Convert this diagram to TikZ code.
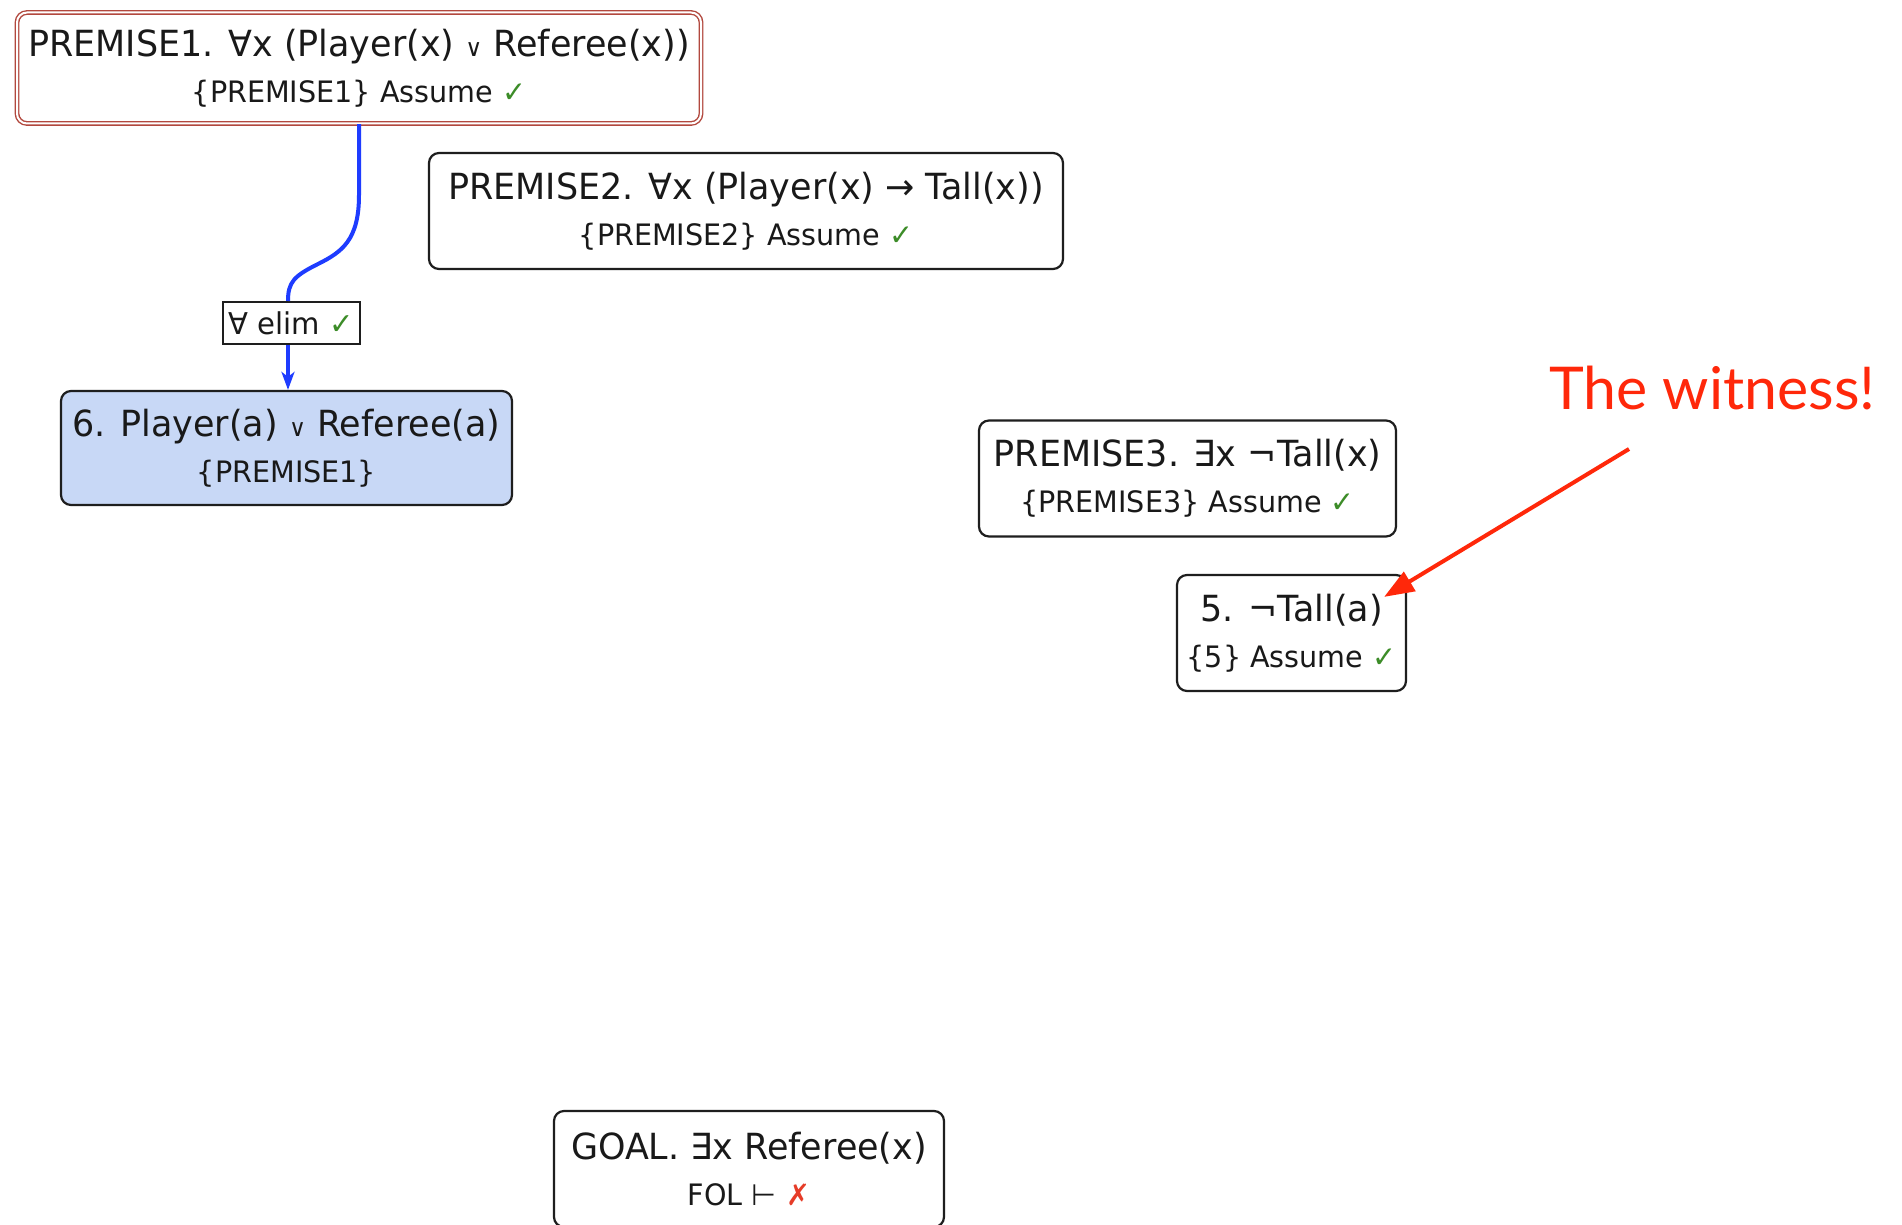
\documentclass[tikz,border=0pt]{standalone}
\usepackage{fontspec}
\usetikzlibrary{arrows.meta,calc}
\newfontfamily\boxfont[FakeStretch=0.97]{DejaVu Sans}
\newfontfamily\witfont{Lato}
\definecolor{txt}{RGB}{25,25,25}
\definecolor{boxline}{RGB}{30,30,30}
\definecolor{premred}{RGB}{178,72,62}
\definecolor{sixfill}{RGB}{200,216,246}
\definecolor{edgeblue}{RGB}{30,60,255}
\definecolor{okgreen}{RGB}{60,140,40}
\definecolor{badred}{RGB}{230,60,40}
\definecolor{witred}{RGB}{255,40,10}
\newcommand\subl[1]{{\fontsize{29.5}{46}\selectfont #1}}
\newcommand\chk{{\color{okgreen}✓}}
\newcommand\crs{{\color{badred}✗}}
\newcommand\myor{{\fontsize{24}{24}\selectfont ∨}}
\tikzset{
  stepnode/.style={draw=boxline, line width=2.2pt, rounded corners=10pt, fill=white,
    align=center, inner sep=0pt, minimum height=116pt, text=txt,
    font=\boxfont\fontsize{36}{46}\selectfont},
  premone/.style={stepnode, draw=premred, double=white, double distance=2pt, line width=1.4pt},
  sixnode/.style={stepnode, fill=sixfill},
  rulelabel/.style={draw=boxline, line width=2pt, fill=white, inner sep=0pt,
    minimum width=137pt, minimum height=42pt, text=txt,
    font=\boxfont\fontsize{30}{30}\selectfont},
  blueedge/.style={draw=edgeblue, line width=4pt},
  witarrow/.style={draw=witred, line width=4pt, -{Triangle[length=30pt,width=22pt]}},
}
\begin{document}
\begin{tikzpicture}[x=1pt,y=-1pt]
\useasboundingbox[fill=white] (0,0) rectangle (1902,1225);
\node[premone, minimum width=684pt, minimum height=111pt] (p1) at (359,68)
  {PREMISE1. ∀x (Player(x) \myor{} Referee(x))\\\subl{\{PREMISE1\} Assume \chk}};
\node[stepnode, minimum width=634pt] (p2) at (746,211)
  {PREMISE2. ∀x (Player(x) → Tall(x))\\\subl{\{PREMISE2\} Assume \chk}};
\node[stepnode, minimum width=417pt] (p3) at (1187.5,478.5)
  {PREMISE3. ∃x ¬Tall(x)\\\subl{\{PREMISE3\} Assume \chk}};
\node[stepnode, minimum width=229pt] (n5) at (1291.5,633)
  {5. ¬Tall(a)\\\subl{\{5\} Assume \chk}};
\node[sixnode, minimum width=451pt, minimum height=114pt] (n6) at (286.5,448)
  {6. Player(a) \myor{} Referee(a)\\\subl{\{PREMISE1\}}};
\node[stepnode, minimum width=390pt] (goal) at (749,1169)
  {GOAL. ∃x Referee(x)\\\subl{FOL ⊢ \crs}};
\node[rulelabel] (lab) at (291,323) {∀ elim \chk};
\draw[blueedge] (p1.south) -- (359,195) .. controls (359,240) and (342,252) .. (318,264)
  .. controls (294,276) and (288,282) .. ([xshift=-3pt]lab.north);
\draw[blueedge, -{Stealth[length=18pt,width=13pt,inset=5pt]}] ([xshift=-3pt]lab.south) -- ([xshift=-3pt]lab.south |- n6.north);
\node[font=\witfont\fontsize{59}{59}\selectfont, text=witred, anchor=base west, inner sep=0pt]
  (wit) at (1549,409) {The witness!};
\coordinate (wtail) at (1629,449);
\draw[witarrow] (wtail) -- ($(n5.north east)+(-23,23)$);
\end{tikzpicture}
\end{document}
